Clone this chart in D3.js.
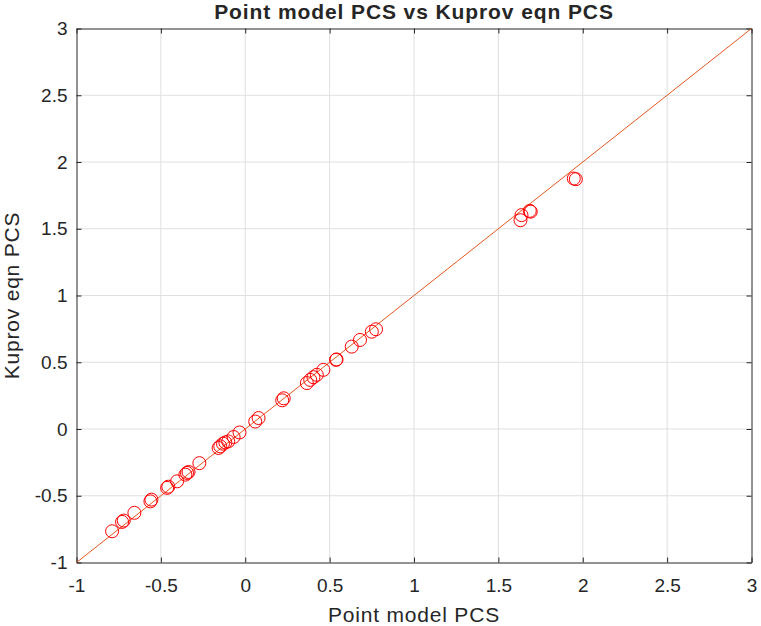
<!DOCTYPE html>
<html>
<head>
<meta charset="utf-8">
<script src="https://cdn.jsdelivr.net/npm/d3@7"></script>
<style>
  body { margin: 0; background: #fff; }
  text { font-family: "Liberation Sans", Arial, sans-serif; fill: #262626; }
</style>
</head>
<body>
<div id="chart"></div>
<script>
// Point model PCS (x) vs Kuprov eqn PCS (y)
const pointPCS = [-0.789, -0.730, -0.720, -0.657, -0.562, -0.556, -0.463, -0.456, -0.404, -0.355,
  -0.345, -0.336, -0.272, -0.158, -0.148, -0.132, -0.118, -0.101, -0.069, -0.034,
  0.059, 0.079, 0.219, 0.228, 0.365, 0.385, 0.404, 0.424, 0.463, 0.538,
  0.541, 0.631, 0.680, 0.750, 0.775, 1.631, 1.637, 1.686, 1.692, 1.947, 1.959];
const kuprovPCS = [-0.766, -0.696, -0.686, -0.628, -0.542, -0.529, -0.441, -0.432, -0.392, -0.342,
  -0.329, -0.322, -0.256, -0.142, -0.130, -0.110, -0.101, -0.093, -0.060, -0.026,
  0.056, 0.082, 0.215, 0.230, 0.344, 0.368, 0.388, 0.406, 0.443, 0.518,
  0.521, 0.617, 0.667, 0.729, 0.747, 1.564, 1.602, 1.634, 1.628, 1.876, 1.871];
const xTicks = [-1, -0.5, 0, 0.5, 1, 1.5, 2, 2.5, 3];
const yTicks = [-1, -0.5, 0, 0.5, 1, 1.5, 2, 2.5, 3];
const identityLine = [-1, 3]; // y = x reference

const width = 761, height = 626;
const margin = { top: 28.5, right: 9.5, bottom: 63.5, left: 76.5 };

const svg = d3.select('#chart').append('svg')
  .attr('width', width)
  .attr('height', height);

const x = d3.scaleLinear().domain([-1, 3]).range([margin.left, width - margin.right]);
const y = d3.scaleLinear().domain([-1, 3]).range([height - margin.bottom, margin.top]);

// grid
svg.append('g').selectAll('line.gx').data(xTicks.slice(1, -1)).enter().append('line')
  .attr('x1', d => x(d)).attr('x2', d => x(d))
  .attr('y1', y(-1)).attr('y2', y(3))
  .attr('stroke', '#dfdfdf').attr('stroke-width', 1);
svg.append('g').selectAll('line.gy').data(yTicks.slice(1, -1)).enter().append('line')
  .attr('y1', d => y(d)).attr('y2', d => y(d))
  .attr('x1', x(-1)).attr('x2', x(3))
  .attr('stroke', '#dfdfdf').attr('stroke-width', 1);

// axes (ticks point inward, box on all sides)
const fmt = d => String(d);
svg.append('g').attr('transform', `translate(0,${y(-1)})`)
  .call(d3.axisBottom(x).tickValues(xTicks).tickFormat(fmt).tickSizeInner(-5).tickSizeOuter(0).tickPadding(16));
svg.append('g').attr('transform', `translate(0,${y(3)})`)
  .call(d3.axisTop(x).tickValues(xTicks).tickFormat('').tickSizeInner(-5).tickSizeOuter(0));
svg.append('g').attr('transform', `translate(${x(-1)},0)`)
  .call(d3.axisLeft(y).tickValues(yTicks).tickFormat(fmt).tickSizeInner(-5).tickSizeOuter(0).tickPadding(9));
svg.append('g').attr('transform', `translate(${x(3)},0)`)
  .call(d3.axisRight(y).tickValues(yTicks).tickFormat('').tickSizeInner(-5).tickSizeOuter(0));

svg.selectAll('.domain').attr('stroke', '#262626');
svg.selectAll('.tick line').attr('stroke', '#262626');
svg.selectAll('.tick text').style('font-size', '19px').attr('fill', '#262626');

// y = x line
svg.append('line')
  .attr('x1', x(identityLine[0])).attr('y1', y(identityLine[0]))
  .attr('x2', x(identityLine[1])).attr('y2', y(identityLine[1]))
  .attr('stroke', '#e4571f').attr('stroke-width', 1);

// points
svg.append('g').selectAll('circle').data(pointPCS).enter().append('circle')
  .attr('cx', d => x(d))
  .attr('cy', (d, i) => y(kuprovPCS[i]))
  .attr('r', 6.5)
  .attr('fill', 'none')
  .attr('stroke', '#ff0000')
  .attr('stroke-width', 1);

// title and labels
svg.append('text')
  .attr('x', (x(-1) + x(3)) / 2).attr('y', 18.5)
  .attr('text-anchor', 'middle')
  .style('font-size', '21px').style('font-weight', 'bold')
  .style('letter-spacing', '0.9px')
  .attr('fill', '#000')
  .text('Point model PCS vs Kuprov eqn PCS');

svg.append('text')
  .attr('x', (x(-1) + x(3)) / 2).attr('y', 622)
  .attr('text-anchor', 'middle')
  .style('font-size', '21px')
  .style('letter-spacing', '0.8px')
  .text('Point model PCS');

svg.append('text')
  .attr('transform', `translate(18.5,${(y(-1) + y(3)) / 2}) rotate(-90)`)
  .attr('text-anchor', 'middle')
  .style('font-size', '21px')
  .style('letter-spacing', '0.8px')
  .text('Kuprov eqn PCS');
</script>
</body>
</html>
